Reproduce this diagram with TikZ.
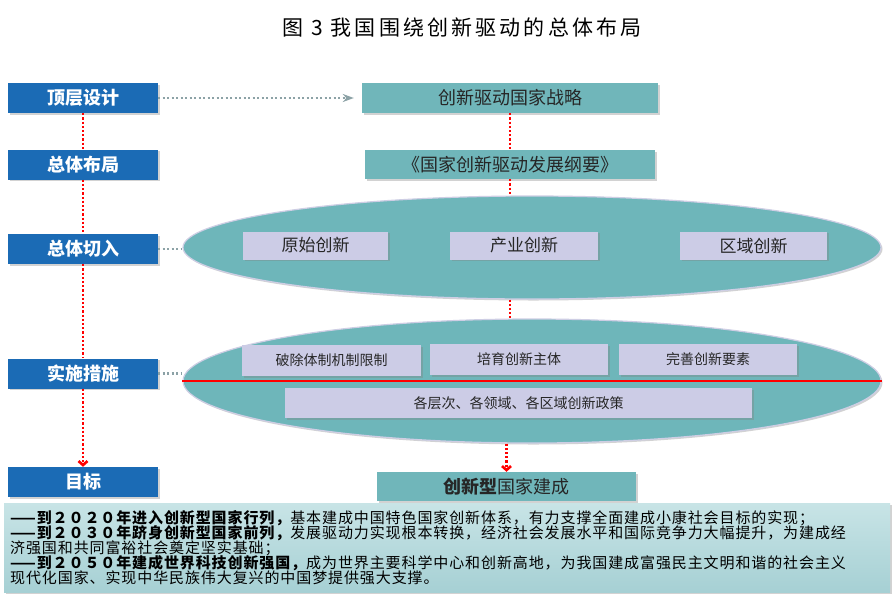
\documentclass[tikz,border=0pt]{standalone}
\usepackage{fontspec}
\setmainfont{Noto Sans CJK SC}
\usetikzlibrary{shapes.geometric,shadows,arrows.meta}
\definecolor{stageblue}{RGB}{27,107,181}
\definecolor{planteal}{RGB}{112,182,186}
\definecolor{fieldteal}{RGB}{110,182,186}
\definecolor{fieldrim}{RGB}{206,206,228}
\definecolor{itemlav}{RGB}{204,204,230}
\definecolor{hintgray}{RGB}{140,162,166}
\definecolor{notetop}{RGB}{200,228,230}
\definecolor{notebot}{RGB}{166,208,212}
\begin{document}
\begin{tikzpicture}[
        x=1pt, y=-1pt,
        castshadow/.style={drop shadow={shadow xshift=1.5pt, shadow yshift=-1.5pt, opacity=0.35}},
        stage/.style={
            fill=stageblue,
            text=white,
            font=\fontsize{18}{18}\selectfont\bfseries,
            minimum width=150pt,
            minimum height=30pt,
            inner sep=0pt,
            castshadow
        },
        plan/.style={
            fill=planteal,
            text=black!85,
            font=\fontsize{18}{18}\selectfont,
            minimum height=30pt,
            inner sep=0pt,
            castshadow
        },
        field/.style={
            ellipse,
            fill=fieldteal,
            draw=fieldrim,
            line width=1.2pt,
            inner sep=0pt,
            minimum width=698pt,
            castshadow
        },
        item/.style={
            fill=itemlav,
            text=black!85,
            inner sep=0pt,
            minimum height=28pt,
            castshadow
        },
        link/.style={red, line width=2.6pt, dash pattern=on 2.2pt off 2pt},
        hint/.style={hintgray, line width=2.4pt, dash pattern=on 2pt off 2.5pt},
        goalline/.style={anchor=west, inner sep=0pt, font=\fontsize{15}{15}\selectfont\addfontfeature{LetterSpace=6}}
    ]
        \path[use as bounding box, fill=white] (0,0) rectangle (896,608);

        \node (title) at (462,28) {\fontsize{21}{21}\selectfont\addfontfeature{LetterSpace=15}图 3 我国围绕创新驱动的总体布局};

        % left column
        \node[stage] (top) at (83,98) {顶层设计};
        \node[stage] (overall) at (83,164.5) {总体布局};
        \node[stage] (entry) at (83,249) {总体切入};
        \node[stage] (measure) at (83,373.5) {实施措施};
        \node[stage] (goal) at (83,482) {目标};

        % right column
        \node[plan, minimum width=296pt] (strategy) at (510,98) {创新驱动国家战略};
        \node[plan, minimum width=290pt, minimum height=29pt] (outline) at (510,164.5) {《国家创新驱动发展纲要》};

        \node[field, minimum height=103pt] (ell1) at (532,247.5) {};
        \node[item, minimum width=145pt, font=\fontsize{17}{17}\selectfont] (origin) at (315.5,245.5) {原始创新};
        \node[item, minimum width=148pt, font=\fontsize{17}{17}\selectfont] (industry) at (524,245.5) {产业创新};
        \node[item, minimum width=147pt, font=\fontsize{17}{17}\selectfont] (region) at (753.5,245.5) {区域创新};

        \node[field, minimum height=124pt] (ell2) at (532,381) {};
        \draw[draw=red, line width=1.3pt] (ell2.west) -- (ell2.east);
        \node[item, minimum width=179pt, minimum height=31pt, font=\fontsize{14}{14}\selectfont] (reform) at (331.5,360.5) {破除体制机制限制};
        \node[item, minimum width=178pt, minimum height=31pt, font=\fontsize{14}{14}\selectfont] (subject) at (519,359.5) {培育创新主体};
        \node[item, minimum width=178pt, minimum height=31pt, font=\fontsize{14}{14}\selectfont] (factor) at (708,359.5) {完善创新要素};
        \node[item, minimum width=467pt, minimum height=30pt, font=\fontsize{14}{14}\selectfont] (policy) at (518.5,403) {各层次、各领域、各区域创新政策};

        \node[plan, minimum width=259pt, minimum height=29pt] (result) at (506.5,486.5) {\bfseries 创新型\mdseries 国家建成};

        \draw[link] (top) -- (overall);
        \draw[link] (overall) -- (entry);
        \draw[link] (entry) -- (measure);
        \draw[link, -{Straight Barb[length=4pt, width=9pt]}] (measure) -- (goal);

        \draw[link] (strategy) -- (outline);
        \draw[link] (outline.south) -- (outline.south |- ell1.north);
        \draw[link] (outline.south |- ell1.south) -- (outline.south |- ell2.north);
        \draw[link, -{Straight Barb[length=4pt, width=9pt]}] (result.north |- ell2.south) -- (result.north);

        \draw[hint, -{Stealth[length=11pt, width=8pt]}, shorten >=8pt] (top) -- (strategy);
        \draw[hint] (entry.east) -- (entry.east -| ell1.west);
        \draw[hint] (measure.east) -- (measure.east -| ell2.west);

        % goals
        \node[top color=notetop, bottom color=notebot, minimum width=886pt, minimum height=89pt, inner sep=0pt, castshadow] (note) at (447,547.5) {};
        \node[goalline] (y2020) at (10,518) {\bfseries ——到２０２０年进入创新型国家行列，\mdseries 基本建成中国特色国家创新体系，有力支撑全面建成小康社会目标的实现；};
        \node[goalline] (y2030) at (10,533) {\bfseries ——到２０３０年跻身创新型国家前列，\mdseries 发展驱动力实现根本转换，经济社会发展水平和国际竞争力大幅提升，为建成经};
        \node[goalline] (y2030b) at (10,548) {济强国和共同富裕社会奠定坚实基础；};
        \node[goalline] (y2050) at (10,563) {\bfseries ——到２０５０年建成世界科技创新强国，\mdseries 成为世界主要科学中心和创新高地，为我国建成富强民主文明和谐的社会主义};
        \node[goalline] (y2050b) at (10,578) {现代化国家、实现中华民族伟大复兴的中国梦提供强大支撑。};
    \end{tikzpicture}
\end{document}
